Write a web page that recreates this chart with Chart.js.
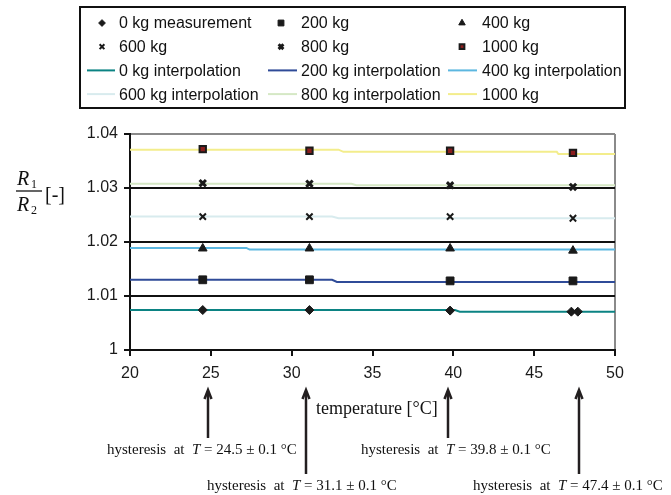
<!DOCTYPE html>
<html>
<head>
<meta charset="utf-8">
<script src="https://cdn.jsdelivr.net/npm/chart.js@4.4.1/dist/chart.umd.min.js"></script>
<style>
  html, body { margin: 0; padding: 0; background: #fff; }
  #wrap { width: 671px; height: 495px; position: relative; }
</style>
</head>
<body>
<div id="wrap"><canvas id="chart"></canvas></div>
<script>
// measurement temperatures [°C]
const temps = [24.5, 31.1, 39.8, 47.4];
const temps0 = [24.5, 31.1, 39.8, 47.3, 47.7];

// measured R1/R2 per load
const meas0 = [1.0074, 1.0074, 1.0073, 1.0071, 1.0071];
const meas200 = [1.0130, 1.0130, 1.0128, 1.0128];
const meas400 = [1.0188, 1.0188, 1.0188, 1.0184];
const meas600 = [1.0247, 1.0247, 1.0247, 1.0244];
const meas800 = [1.0309, 1.0308, 1.0305, 1.0302];
const meas1000 = [1.0372, 1.0369, 1.0369, 1.0365];

// interpolated (stepped) curves
const interp0X = [20, 40.1, 40.4, 50];
const interp0Y = [1.0074, 1.0074, 1.0071, 1.0071];
const interp200X = [20, 32.5, 32.8, 50];
const interp200Y = [1.0130, 1.0130, 1.0126, 1.0126];
const interp400X = [20, 27.2, 27.4, 50];
const interp400Y = [1.0189, 1.0189, 1.0186, 1.0186];
const interp600X = [20, 32.5, 32.9, 50];
const interp600Y = [1.0247, 1.0247, 1.0244, 1.0244];
const interp800X = [20, 33.7, 34.0, 50];
const interp800Y = [1.0308, 1.0308, 1.0305, 1.0305];
const interp1000X = [20, 32.9, 33.2, 46.4, 46.5, 50];
const interp1000Y = [1.0371, 1.0371, 1.0367, 1.0367, 1.0363, 1.0363];

// axes
const xTicks = [20, 25, 30, 35, 40, 45, 50];
const yTicks = [1, 1.01, 1.02, 1.03, 1.04];

// hysteresis notes below the axis
const hystTemps = [24.5, 31.1, 39.8, 47.4];
const hystErr = 0.1;
const arrowTemps = [24.8, 30.9, 39.7, 47.8];

const SANS = '"Liberation Sans", Arial, sans-serif';
const SERIF = '"Liberation Serif", "Times New Roman", serif';

const pts = (xs, ys) => xs.map((v, i) => ({ x: v, y: ys[i] }));

function marker(label, xs, ys, style, radius, extra) {
  return Object.assign({
    label: label,
    data: pts(xs, ys),
    showLine: false,
    pointStyle: style,
    pointRadius: radius,
    pointBackgroundColor: '#1a1a1a',
    pointBorderColor: '#1a1a1a',
    pointBorderWidth: 1
  }, extra || {});
}

function curve(label, xs, ys, color) {
  return {
    label: label,
    data: pts(xs, ys),
    showLine: true,
    borderColor: color,
    borderWidth: 2,
    pointRadius: 0,
    tension: 0
  };
}

const datasets = [
  marker('0 kg measurement', temps0, meas0, 'rectRot', 4.5),
  marker('200 kg', temps, meas200, 'rect', 5.5),
  marker('400 kg', temps, meas400, 'triangle', 5),
  marker('600 kg', temps, meas600, 'crossRot', 4.5, { pointBorderWidth: 2 }),
  marker('800 kg', temps, meas800, 'crossRot', 4.5, { pointBorderWidth: 3 }),
  marker('1000 kg', temps, meas1000, 'rect', 4.5, { pointBackgroundColor: '#8b1d1d', pointBorderColor: '#1a1a1a', pointBorderWidth: 2 }),
  curve('0 kg interpolation', interp0X, interp0Y, '#0b8383'),
  curve('200 kg interpolation', interp200X, interp200Y, '#2f4b98'),
  curve('400 kg interpolation', interp400X, interp400Y, '#5cb7e0'),
  curve('600 kg interpolation', interp600X, interp600Y, '#d8ebee'),
  curve('800 kg interpolation', interp800X, interp800Y, '#d5e8c5'),
  curve('1000 kg', interp1000X, interp1000Y, '#f3ed8c')
];

// legend box, y-axis fraction, axis title, arrows and notes
const extras = {
  id: 'extras',
  afterDraw(chart) {
    const ctx = chart.ctx;
    const xs = chart.scales.x;
    ctx.save();

    // legend
    ctx.strokeStyle = '#111';
    ctx.lineWidth = 2;
    ctx.strokeRect(80, 7, 545, 101);
    const cols = [
      { mark: 102, text: 119, l0: 87, l1: 115 },
      { mark: 281, text: 301, l0: 268, l1: 297 },
      { mark: 462, text: 482, l0: 448, l1: 477 }
    ];
    ctx.font = '16px ' + SANS;
    ctx.textBaseline = 'middle';
    ctx.textAlign = 'left';
    chart.data.datasets.forEach((ds, i) => {
      const c = cols[i % 3];
      const y = 23 + Math.floor(i / 3) * 23.7;
      if (ds.showLine) {
        ctx.strokeStyle = ds.borderColor;
        ctx.lineWidth = 2;
        ctx.beginPath();
        ctx.moveTo(c.l0, y);
        ctx.lineTo(c.l1, y);
        ctx.stroke();
      } else {
        ctx.fillStyle = ds.pointBackgroundColor;
        ctx.strokeStyle = ds.pointBorderColor;
        ctx.lineWidth = ds.pointBorderWidth;
        Chart.helpers.drawPoint(ctx, {
          pointStyle: ds.pointStyle,
          radius: ds.pointRadius * 0.75,
          rotation: 0,
          borderWidth: ds.pointBorderWidth
        }, c.mark, y);
      }
      ctx.fillStyle = '#111';
      ctx.fillText(ds.label, c.text, y + 1);
    });

    // y-axis label R1 / R2 [-]
    ctx.fillStyle = '#111';
    ctx.textBaseline = 'alphabetic';
    ctx.font = 'italic 20px ' + SERIF;
    ctx.fillText('R', 17, 185);
    ctx.fillText('R', 17, 211);
    ctx.font = '12px ' + SERIF;
    ctx.fillText('1', 31, 188);
    ctx.fillText('2', 31, 214);
    ctx.strokeStyle = '#111';
    ctx.lineWidth = 1.3;
    ctx.beginPath();
    ctx.moveTo(16, 191);
    ctx.lineTo(42, 191);
    ctx.stroke();
    ctx.font = '20px ' + SERIF;
    ctx.fillText('[-]', 45, 201);

    // x-axis title
    ctx.font = '18px ' + SERIF;
    ctx.textBaseline = 'middle';
    ctx.fillText('temperature [°C]', 316, 409);

    // arrows
    ctx.strokeStyle = '#231f20';
    ctx.lineWidth = 2.5;
    arrowTemps.forEach((t, i) => {
      const px = Math.round(xs.getPixelForValue(t));
      const bottom = i % 2 ? 474 : 438;
      ctx.beginPath();
      ctx.moveTo(px, bottom);
      ctx.lineTo(px, 392);
      ctx.stroke();
      ctx.beginPath();
      ctx.moveTo(px - 3.5, 399);
      ctx.lineTo(px, 390);
      ctx.lineTo(px + 3.5, 399);
      ctx.stroke();
    });

    // hysteresis notes
    const lefts = [107, 207, 361, 473];
    hystTemps.forEach((t, i) => {
      const y = i % 2 ? 486 : 450;
      let x = lefts[i];
      const parts = [
        ['hysteresis  at  ', '15px ' + SERIF],
        ['T', 'italic 15px ' + SERIF],
        [' = ' + t.toFixed(1) + ' ± ' + hystErr.toFixed(1) + ' °C', '15px ' + SERIF]
      ];
      parts.forEach(p => {
        ctx.font = p[1];
        ctx.fillText(p[0], x, y);
        x += ctx.measureText(p[0]).width;
      });
    });

    ctx.restore();
  }
};

new Chart(document.getElementById('chart'), {
  type: 'scatter',
  data: { datasets: datasets },
  options: {
    responsive: true,
    maintainAspectRatio: false,
    animation: false,
    events: [],
    layout: { padding: { top: 134, right: 56, left: 0, bottom: 0 } },
    plugins: {
      legend: { display: false },
      tooltip: { enabled: false }
    },
    scales: {
      x: {
        type: 'linear',
        min: xTicks[0],
        max: xTicks[xTicks.length - 1],
        afterFit: s => { s.height = 145; },
        ticks: {
          stepSize: 5,
          padding: 8,
          color: '#1a1a1a',
          font: { family: SANS, size: 16 }
        },
        grid: {
          color: c => (c.index === xTicks.length - 1 ? '#8a8a8a' : 'rgba(0,0,0,0)'),
          tickColor: '#111',
          lineWidth: 2,
          tickWidth: 2,
          tickLength: 6
        },
        border: { color: '#111', width: 2 }
      },
      y: {
        min: yTicks[0],
        max: yTicks[yTicks.length - 1],
        afterFit: s => { s.width = 130; },
        ticks: {
          stepSize: 0.01,
          padding: 6,
          color: '#1a1a1a',
          font: { family: SANS, size: 16 },
          callback: v => String(Math.round(v * 100) / 100)
        },
        grid: {
          color: c => (c.index === yTicks.length - 1 ? '#8a8a8a' : '#111'),
          tickColor: '#111',
          lineWidth: 2,
          tickWidth: 2,
          tickLength: 6
        },
        border: { color: '#111', width: 2 }
      }
    }
  },
  plugins: [extras]
});
</script>
</body>
</html>
